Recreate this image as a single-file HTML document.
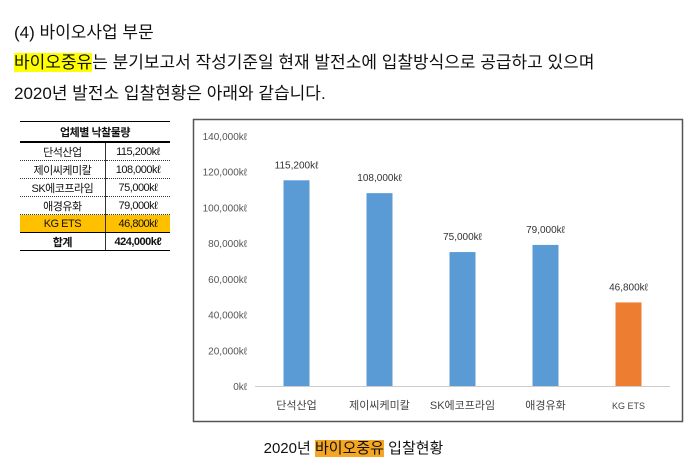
<!DOCTYPE html>
<html><head><meta charset="utf-8">
<style>
body{margin:0;width:697px;height:469px;background:#fff;position:relative;overflow:hidden;font-family:"Liberation Sans","Noto Sans CJK KR",sans-serif;color:#111}
.t{position:absolute;left:14px;font-size:17px;white-space:nowrap}
.hl{background:#ffff00}
.ho{background:#f5a623}
table{position:absolute;left:20px;top:121px;width:150px;border-collapse:collapse;font-size:11px;letter-spacing:-0.5px}
td{height:17px;padding:0;text-align:center;border-bottom:1px dotted #333}
td.v{border-left:1px solid #333}
tr.h td{border-top:1px solid #000;border-bottom:2px solid #000;font-weight:bold;height:19px}
tr.y td{background:#ffc000;border-bottom:1px solid #000}
tr.s td{font-weight:bold;border-bottom:1px solid #000}
</style></head><body>
<div class="t" style="top:18px">(4) 바이오사업 부문</div>
<div class="t" style="top:48px"><span class="hl">바이오중유</span>는 분기보고서 작성기준일 현재 발전소에 입찰방식으로 공급하고 있으며</div>
<div class="t" style="top:79px">2020년 발전소 입찰현황은 아래와 같습니다.</div>
<table>
<tr class="h"><td colspan="2">업체별 낙찰물량</td></tr>
<tr><td>단석산업</td><td class="v">115,200kℓ</td></tr>
<tr><td>제이씨케미칼</td><td class="v">108,000kℓ</td></tr>
<tr><td>SK에코프라임</td><td class="v">75,000kℓ</td></tr>
<tr><td>애경유화</td><td class="v">79,000kℓ</td></tr>
<tr class="y"><td>KG ETS</td><td class="v">46,800kℓ</td></tr>
<tr class="s"><td>합계</td><td class="v">424,000kℓ</td></tr>
</table>
<svg id="chart" style="position:absolute;left:0;top:0" width="697" height="469"></svg>
<div style="position:absolute;top:437px;left:0;width:697px;text-align:center;font-size:15px;padding-left:10px;box-sizing:border-box">2020년 <span class="ho">바이오중유</span> 입찰현황</div>
<script>
const categories=["단석산업","제이씨케미칼","SK에코프라임","애경유화","KG ETS"];
const values=[115200,108000,75000,79000,46800];
const valueLabels=["115,200kℓ","108,000kℓ","75,000kℓ","79,000kℓ","46,800kℓ"];
const ticks=[0,20000,40000,60000,80000,100000,120000,140000];
const tickLabels=["0kℓ","20,000kℓ","40,000kℓ","60,000kℓ","80,000kℓ","100,000kℓ","120,000kℓ","140,000kℓ"];
const ns="http://www.w3.org/2000/svg";
const svg=document.getElementById('chart');
const y0=386,y1=136,vmax=140000,x0=255,x1=670;
const y=v=>y0-(v/vmax)*(y0-y1);
const step=(x1-x0)/categories.length;
const x=i=>x0+step*(i+0.5);
function mk(t,a){const e=document.createElementNS(ns,t);for(const k in a)e.setAttribute(k,a[k]);svg.appendChild(e);return e;}
const fr=mk('rect',{x:193.5,y:119.5,width:489,height:302,fill:'none',stroke:'#555','stroke-width':1.5});


ticks.forEach((t,i)=>{
 const tx=mk('text',{x:247,y:y(t)+4,'text-anchor':'end','font-size':10,fill:'#555'});
 tx.textContent=tickLabels[i];
 
 
});
const ax=mk('line',{x1:x0,x2:x1,y1:y0+0.5,y2:y0+0.5,stroke:'#ccc'});


categories.forEach((c,i)=>{
 const b=mk('rect',{x:x(i)-13,y:y(values[i]),width:26,height:y0-y(values[i]),fill:i===4?'#ed7d31':'#5b9bd5'});
 
 
 const l=mk('text',{x:x(i),y:y(values[i])-12,'text-anchor':'middle','font-size':10,fill:'#333'});
 l.textContent=valueLabels[i];
 
 
 const cl=mk('text',{x:x(i),y:409,'text-anchor':'middle','font-size':i===4?9:11,fill:'#444'});
 cl.textContent=c;
 
 
});
</script>
</body></html>
